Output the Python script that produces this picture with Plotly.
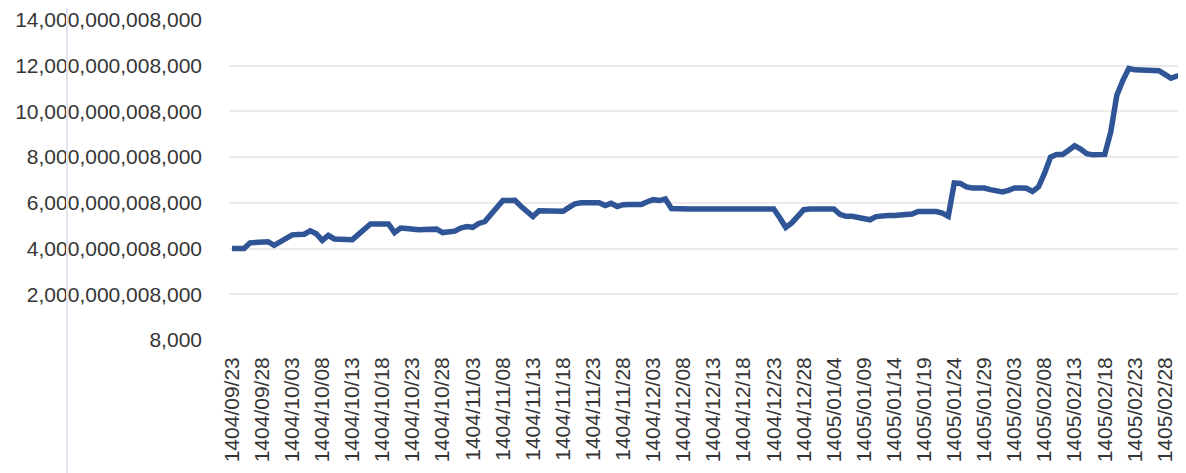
import plotly.graph_objects as go

# Persian-calendar month lengths covering the chart span
month_lengths = {(1404, 9): 30, (1404, 10): 30, (1404, 11): 30, (1404, 12): 29,
                 (1405, 1): 31, (1405, 2): 31, (1405, 3): 31}
start_date = (1404, 9, 23)

# Daily values, in trillions
values_trillion = [
    4.00, 4.00, 4.00, 4.25, 4.28, 4.30, 4.30, 4.14, 4.28, 4.45,
    4.60, 4.62, 4.63, 4.78, 4.65, 4.36, 4.58, 4.42, 4.39, 4.39,
    4.39, 4.62, 4.86, 5.08, 5.08, 5.08, 5.08, 4.70, 4.90, 4.88,
    4.84, 4.82, 4.83, 4.85, 4.85, 4.70, 4.70, 4.76, 4.90, 4.96,
    4.93, 5.10, 5.18, 5.45, 5.80, 6.10, 6.11, 6.11, 5.85, 5.65,
    5.40, 5.65, 5.65, 5.64, 5.63, 5.63, 5.80, 5.96, 6.00, 6.00,
    6.00, 6.00, 5.88, 5.98, 5.84, 5.92, 5.93, 5.93, 5.93, 6.05,
    6.14, 6.10, 6.17, 5.75, 5.73, 5.73, 5.73, 5.73, 5.73, 5.73,
    5.73, 5.73, 5.73, 5.73, 5.73, 5.73, 5.73, 5.73, 5.73, 5.73,
    5.73, 5.35, 4.92, 5.12, 5.45, 5.70, 5.73, 5.73, 5.73, 5.73,
    5.73, 5.50, 5.41, 5.41, 5.36, 5.28, 5.26, 5.40, 5.45, 5.45,
    5.45, 5.46, 5.48, 5.51, 5.62, 5.65, 5.62, 5.62, 5.55, 5.41,
    6.87, 6.85, 6.70, 6.65, 6.65, 6.65, 6.58, 6.52, 6.48, 6.55,
    6.65, 6.65, 6.64, 6.50, 6.70, 7.30, 8.00, 8.12, 8.12, 8.30,
    8.50, 8.35, 8.15, 8.10, 8.10, 8.12, 9.10, 10.70, 11.35, 11.88,
    11.82, 11.82, 11.82, 11.80, 11.78, 11.62, 11.45, 11.55, 11.62,
]

# Axis offset shown in the tick labels (every value sits 8,000 above a round trillion)
axis_offset = 8000
y_tick_trillions = [0, 2, 4, 6, 8, 10, 12, 14]
y_tick_labels = ["8,000", "2,000,000,008,000", "4,000,000,008,000", "6,000,000,008,000",
                 "8,000,000,008,000", "10,000,000,008,000", "12,000,000,008,000",
                 "14,000,000,008,000"]

# Build the daily category labels
dates = []
y, m, d = start_date
for _ in range(len(values_trillion)):
    dates.append(f"{y}/{m:02d}/{d:02d}")
    d += 1
    if d > month_lengths[(y, m)]:
        d = 1
        m += 1
        if m > 12:
            m = 1
            y += 1

x_tick_labels = dates[::5]
y_values = [v * 1e12 + axis_offset for v in values_trillion]
y_tick_vals = [t * 1e12 + axis_offset for t in y_tick_trillions]

FONT = "Liberation Sans"
TXT = "#363636"

# page body has an 8px margin, so the figure is sized to fit the window
W, H = 1178, 465
ML, MR, MT, MB = 221, 0, 12, 133
plot_w = W - ML - MR
plot_h = H - MT - MB

fig = go.Figure()
fig.add_trace(go.Scatter(
    x=dates, y=y_values, mode="lines",
    line=dict(color="#2f5597", width=5.5),
    hoverinfo="skip", showlegend=False,
))

fig.update_layout(
    width=W, height=H,
    margin=dict(l=ML, r=MR, t=MT, b=MB),
    paper_bgcolor="white", plot_bgcolor="white",
    font=dict(family=FONT, size=21, color=TXT),
    showlegend=False,
)
fig.update_xaxes(
    type="category",
    range=[-0.5, len(dates) - 0.5],
    tickmode="array", tickvals=x_tick_labels, ticktext=x_tick_labels,
    tickangle=-90, tickfont=dict(family=FONT, size=21, color=TXT),
    showgrid=False, showline=False, zeroline=False,
    ticks="", ticklabelstandoff=12,
)
fig.update_yaxes(
    range=[y_tick_vals[0], y_tick_vals[-1]],
    tickmode="array", tickvals=y_tick_vals, ticktext=y_tick_labels,
    tickfont=dict(family=FONT, size=21, color=TXT),
    showgrid=True, gridcolor="#ebebeb", gridwidth=1.5,
    zeroline=False, showline=False, ticks="", ticklabelstandoff=26,
)

# faint vertical line at far left, as in the photographed page
vx = (59 - ML) / plot_w
fig.add_shape(type="line", xref="paper", yref="paper",
              x0=vx, x1=vx, y0=-MB / plot_h, y1=1 + MT / plot_h,
              line=dict(color="#e2e2ee", width=2))

fig.write_html("out.html")
